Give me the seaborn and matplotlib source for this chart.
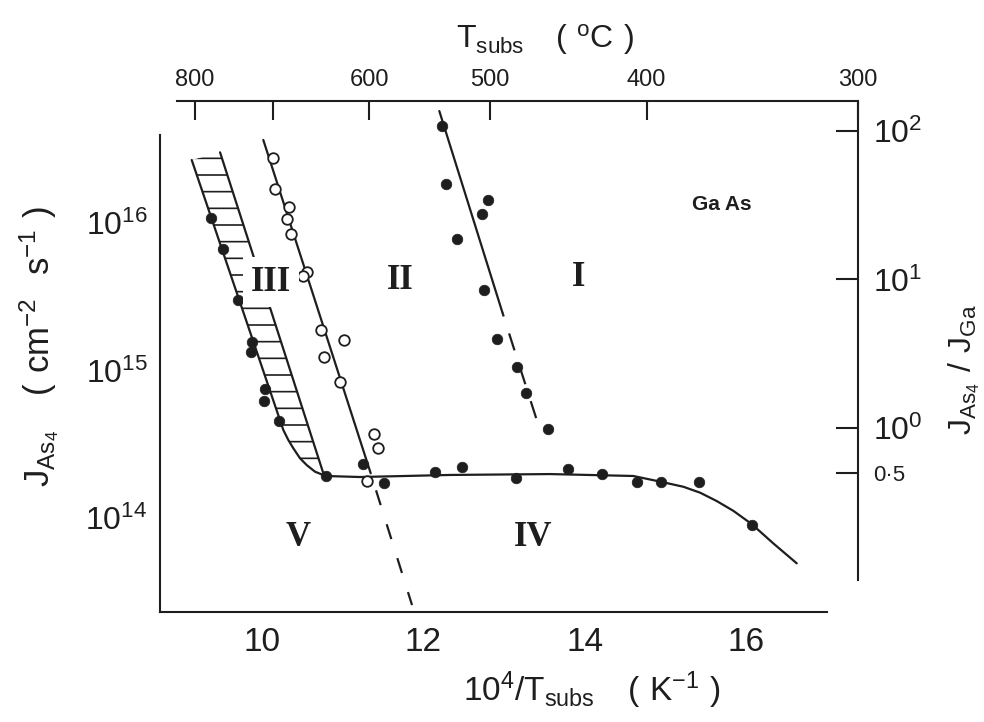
import matplotlib
matplotlib.use("Agg")
import matplotlib.pyplot as plt
import seaborn as sns
import numpy as np

# ---------------- data (x = 10^4/Tsubs [K^-1], y given as log10 J_As4 [cm^-2 s^-1]) -------------
# filled circles on the III / V boundary
b3_x = [9.364, 9.520, 9.706, 9.880, 9.860, 10.037, 10.029, 10.211, 10.789]
b3_logy = [16.032, 15.822, 15.478, 15.195, 15.123, 14.873, 14.793, 14.660, 14.285]
# filled circles on the plateau (region IV)
p4_x = [11.255, 11.515, 12.144, 12.475, 13.147, 13.788, 14.217, 14.643, 14.941, 15.415, 16.068]
p4_logy = [14.366, 14.239, 14.310, 14.348, 14.269, 14.330, 14.298, 14.246, 14.242, 14.242, 13.953]
# filled circles on the I / II boundary
b1_x = [12.234, 12.276, 12.804, 12.722, 12.420, 12.755, 12.916, 13.164, 13.268, 13.540]
b1_logy = [16.658, 16.262, 16.156, 16.059, 15.889, 15.546, 15.214, 15.022, 14.845, 14.601]
# open circles on the II / III boundary
b2_x = [10.140, 10.161, 10.338, 10.306, 10.356, 10.554, 10.504, 10.727, 11.020, 10.768,
        10.967, 11.392, 11.434, 11.305]
b2_logy = [16.439, 16.228, 16.111, 16.025, 15.923, 15.670, 15.641, 15.275, 15.207, 15.090,
           14.924, 14.569, 14.473, 14.251]

# main boundary curve (III/V edge -> plateau -> low-temperature fall-off)
curve_x = [9.129, 10.264, 10.326, 10.388, 10.471, 10.554, 10.657, 10.789, 11.214, 12.330,
           13.569, 14.601, 14.941, 15.221, 15.428, 15.635, 15.840, 16.068, 16.336, 16.626]
curve_logy = [16.427, 14.597, 14.529, 14.473, 14.405, 14.359, 14.314, 14.285, 14.278, 14.292,
              14.298, 14.285, 14.246, 14.212, 14.172, 14.115, 14.049, 13.959, 13.828, 13.693]
N_BAND = 8  # first points of the curve bounding the hatched band
# right edge of the hatched band
band_x = [9.480, 10.760]
band_logy = [16.479, 14.303]
# II/III fitted line (solid part, dashed extension)
l2_x = [10.016, 11.347]
l2_logy = [16.563, 14.303]
l2d_x = [11.347, 11.859]
l2d_logy = [14.303, 13.410]
# I/II fitted line (solid part, dashed extension)
l1_x = [12.197, 12.978]
l1_logy = [16.759, 15.395]
l1d_x = [12.978, 13.424]
l1d_logy = [15.395, 14.631]

# axis ticks
bottom_ticks = [9, 10, 11, 12, 13, 14, 15, 16, 17]
bottom_labels = ["", "10", "", "12", "", "14", "", "16", ""]
left_ticks = [1e14, 1e15, 1e16]
left_labels = [r"$\mathregular{10^{14}}$", r"$\mathregular{10^{15}}$", r"$\mathregular{10^{16}}$"]
top_temps_C = [800, 700, 600, 500, 400, 300]
top_labels = ["800", "", "600", "500", "400", "300"]
right_ticks = [0.5, 1, 10, 100]
right_labels = ["0\u00b75", r"$\mathregular{10^{0}}$", r"$\mathregular{10^{1}}$", r"$\mathregular{10^{2}}$"]

region_labels = ["I", "II", "III", "IV", "V"]

# ---------------- style ----------------
sns.set_style("white")
INK = "#1e1e1e"
plt.rcParams["font.family"] = ["Liberation Sans", "DejaVu Sans"]
plt.rcParams["mathtext.default"] = "regular"
plt.rcParams["hatch.linewidth"] = 1.2
plt.rcParams["hatch.color"] = INK
plt.rcParams["text.color"] = INK
plt.rcParams["axes.edgecolor"] = INK
plt.rcParams["xtick.color"] = INK
plt.rcParams["ytick.color"] = INK

W, H = 984, 722
fig = plt.figure(figsize=(W / 100, H / 100), dpi=100)
fig.patch.set_facecolor("white")


def rect(l, t, r, b):
    return [l / W, 1 - b / H, (r - l) / W, (b - t) / H]


# frame holding the top (°C) and right (ratio) scales
ax2 = fig.add_axes(rect(177, 101, 858, 580))
# main axes (bottom / left)
ax = fig.add_axes(rect(160, 101, 827, 612))
ax.patch.set_visible(False)

LW = 1.6
# ---- main axes ----
ax.set_yscale("log")
ax.set_xlim(8.736, 17.001)
ax.set_ylim(10 ** 13.363, 10 ** 16.827)

# hatched band
poly_x = list(curve_x[:N_BAND]) + band_x[::-1]
poly_y = [10 ** v for v in curve_logy[:N_BAND]] + [10 ** v for v in band_logy[::-1]]
ax.fill(poly_x, poly_y, facecolor="none", edgecolor=INK, hatch="-", linewidth=0, zorder=1)


def pow10(a):
    return [10 ** v for v in a]


sns.lineplot(x=curve_x, y=pow10(curve_logy), ax=ax, sort=False, estimator=None,
             color=INK, linewidth=LW, zorder=3)
sns.lineplot(x=band_x, y=pow10(band_logy), ax=ax, sort=False, estimator=None,
             color=INK, linewidth=LW, zorder=3)
sns.lineplot(x=l2_x, y=pow10(l2_logy), ax=ax, sort=False, estimator=None,
             color=INK, linewidth=LW, zorder=3)
sns.lineplot(x=l2d_x, y=pow10(l2d_logy), ax=ax, sort=False, estimator=None,
             color=INK, linewidth=LW, linestyle=(8, (7, 9)), zorder=3)
sns.lineplot(x=l1_x, y=pow10(l1_logy), ax=ax, sort=False, estimator=None,
             color=INK, linewidth=LW, zorder=3)
sns.lineplot(x=l1d_x, y=pow10(l1d_logy), ax=ax, sort=False, estimator=None,
             color=INK, linewidth=LW, linestyle=(6, (8, 8)), zorder=3)

MS = 58
sns.scatterplot(x=b3_x, y=pow10(b3_logy), ax=ax, color=INK, edgecolor=INK, s=MS,
                linewidth=0.5, zorder=5)
sns.scatterplot(x=p4_x, y=pow10(p4_logy), ax=ax, color=INK, edgecolor=INK, s=MS,
                linewidth=0.5, zorder=5)
sns.scatterplot(x=b1_x, y=pow10(b1_logy), ax=ax, color=INK, edgecolor=INK, s=MS,
                linewidth=0.5, zorder=5)
sns.scatterplot(x=b2_x, y=pow10(b2_logy), ax=ax, color="white", edgecolor=INK, s=MS,
                linewidth=1.3, zorder=5)

ax.spines["top"].set_visible(False)
ax.spines["right"].set_visible(False)
for s in ("left", "bottom"):
    ax.spines[s].set_linewidth(1.5)
ax.spines["left"].set_bounds(10 ** 13.363, 10 ** 16.597)
ax.set_xticks(bottom_ticks)
ax.set_xticklabels(bottom_labels)
ax.set_yticks(left_ticks)
ax.set_yticklabels(left_labels)
ax.yaxis.set_minor_locator(matplotlib.ticker.NullLocator())
ax.tick_params(axis="x", direction="in", length=13, width=1.5, pad=11, labelsize=24)
ax.tick_params(axis="y", direction="in", length=12, width=1.5, pad=9, labelsize=23)
ax.set_xlabel("")
ax.set_ylabel("")

# ---- top / right frame ----
ax2.patch.set_visible(False)
ax2.set_yscale("log")
ax2.set_xlim(9.098, 17.448)
ax2.set_ylim(10 ** -1.024, 10 ** 2.202)
for s in ("left", "bottom"):
    ax2.spines[s].set_visible(False)
for s in ("top", "right"):
    ax2.spines[s].set_visible(True)
    ax2.spines[s].set_linewidth(1.5)
ax2.xaxis.set_ticks_position("top")
ax2.xaxis.set_label_position("top")
ax2.yaxis.set_ticks_position("right")
ax2.yaxis.set_label_position("right")
ax2.set_xticks([1e4 / (t + 273.15) for t in top_temps_C])
ax2.set_xticklabels(top_labels)
ax2.set_yticks(right_ticks)
ax2.set_yticklabels(right_labels)
ax2.yaxis.set_minor_locator(matplotlib.ticker.NullLocator())
ax2.tick_params(axis="x", direction="in", length=14, width=1.5, pad=7, labelsize=17)
ax2.tick_params(axis="y", direction="in", length=16, width=1.5, pad=11, labelsize=23)
for lab in ax2.get_yticklabels():
    if lab.get_text().startswith("0"):
        lab.set_fontsize(16)

# ---- axis titles ----
def ftext(x, y, s, **kw):
    fig.text(x / W, 1 - y / H, s, **kw)


ftext(592, 690, r"$\mathregular{10^4/T_{subs}\quad (\ K^{-1}\ )}$", fontsize=24,
      ha="center", va="center")
ftext(545, 40, r"$\mathregular{T_{subs}\quad (\ ^oC\ )}$", fontsize=23,
      ha="center", va="center")
ftext(40, 346, r"$\mathregular{J_{As_4}\quad (\ cm^{-2}\ \ s^{-1}\ )}$", fontsize=25,
      ha="center", va="center", rotation=90)
ftext(964, 370, r"$\mathregular{J_{As_4}\ /\ J_{Ga}}$", fontsize=23,
      ha="center", va="center", rotation=90)

# ---- region labels ----
serif = dict(family=["Liberation Serif", "DejaVu Serif"], weight="bold", fontsize=25,
             ha="center", va="center")
region_pos = [(579, 278), (400, 280), (271, 282), (533, 537), (298, 537)]
for lab, (px, py) in zip(region_labels, region_pos):
    kw = dict(serif)
    if lab == "III":
        kw["bbox"] = dict(facecolor="white", edgecolor="none", pad=6)
    t = fig.text(px / W, 1 - py / H, lab, **kw)
    t.set_zorder(4)
ftext(722, 205, "Ga As", fontsize=15, weight="bold", ha="center", va="center")

fig.savefig("out.png", dpi=100, facecolor="white")
